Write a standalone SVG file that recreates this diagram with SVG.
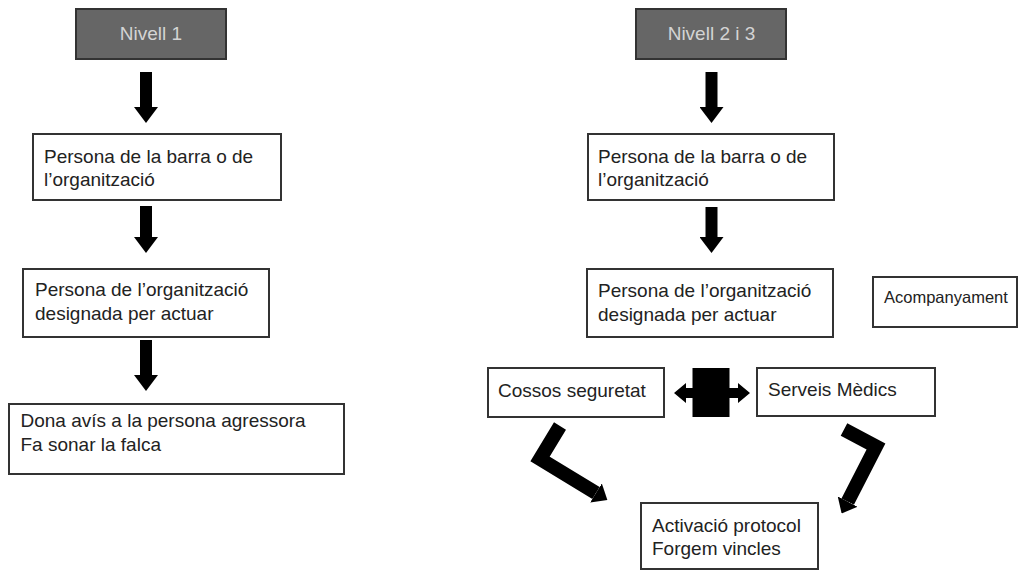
<svg xmlns="http://www.w3.org/2000/svg" width="1018" height="570" viewBox="0 0 1018 570">
<defs>
<style>
.box{fill:#fff;stroke:#333;stroke-width:2}
.hdr{fill:#666;stroke:#333;stroke-width:2}
.t{font-family:"Liberation Sans",Arial,sans-serif;font-size:19px;fill:#222}
.ht{font-family:"Liberation Sans",Arial,sans-serif;font-size:19px;fill:#d4d4d4;text-anchor:middle}
.st{fill:none;stroke:#000;stroke-width:12}
.bent{fill:none;stroke:#000;stroke-width:14;stroke-linejoin:miter}
</style>
<marker id="head" viewBox="0 0 10 10" refX="0" refY="5" markerWidth="1.333" markerHeight="2" markerUnits="strokeWidth" orient="auto" preserveAspectRatio="none">
<path d="M0,0 L10,5 L0,10 Z" fill="#000"/>
</marker>
<marker id="headS" viewBox="0 0 10 10" refX="0" refY="5" markerWidth="0.95" markerHeight="1.6" markerUnits="strokeWidth" orient="auto" preserveAspectRatio="none">
<path d="M0,0 L10,5 L0,10 Z" fill="#000"/>
</marker>
</defs>
<rect width="1018" height="570" fill="#fff"/>

<g id="connectors">
<line class="st" x1="146" y1="72" x2="146" y2="107" marker-end="url(#head)"/>
<line class="st" x1="146" y1="206" x2="146" y2="237" marker-end="url(#head)"/>
<line class="st" x1="146" y1="340" x2="146" y2="375" marker-end="url(#head)"/>
<line class="st" x1="711.5" y1="72" x2="711.5" y2="107" marker-end="url(#head)"/>
<line class="st" x1="711.5" y1="207" x2="711.5" y2="237" marker-end="url(#head)"/>
<path d="M692.5,368 H729.5 V388 H738 V383 L750,393 L738,403 V398 H729.5 V417 H692.5 V398 H686 V403 L674,393 L686,383 V388 H692.5 Z" fill="#000"/>
<polyline class="bent" points="560,426 540,459 596,493" marker-end="url(#headS)"/>
<polyline class="bent" points="844,429.5 876,446.5 847.7,501.6" marker-end="url(#headS)"/>
</g>

<g id="nivell1">
<rect class="hdr" x="76" y="9" width="150" height="50"/>
<text class="ht" x="151" y="39.5">Nivell 1</text>
</g>
<g id="nivell23">
<rect class="hdr" x="636" y="9" width="150" height="50"/>
<text class="ht" x="711.5" y="39.5">Nivell 2 i 3</text>
</g>

<g id="l-barra">
<rect class="box" x="33" y="134" width="248" height="66"/>
<text class="t" x="44" y="163">Persona de la barra o de</text>
<text class="t" x="44" y="186">l’organització</text>
</g>
<g id="l-designada">
<rect class="box" x="23" y="269" width="246" height="68"/>
<text class="t" x="35" y="296">Persona de l’organització</text>
<text class="t" x="35" y="320">designada per actuar</text>
</g>
<g id="l-avis">
<rect class="box" x="9" y="404" width="335" height="70"/>
<text class="t" x="20.5" y="427">Dona avís a la persona agressora</text>
<text class="t" x="20.5" y="451">Fa sonar la falca</text>
</g>

<g id="r-barra">
<rect class="box" x="588" y="134" width="246" height="66"/>
<text class="t" x="598" y="163">Persona de la barra o de</text>
<text class="t" x="598" y="186">l’organització</text>
</g>
<g id="r-designada">
<rect class="box" x="587" y="269" width="246" height="68"/>
<text class="t" x="598" y="297">Persona de l’organització</text>
<text class="t" x="598" y="321">designada per actuar</text>
</g>
<g id="acompanyament">
<rect class="box" x="873" y="277" width="144" height="50"/>
<text class="t" x="884" y="303" style="font-size:16.5px">Acompanyament</text>
</g>
<g id="cossos">
<rect class="box" x="488" y="368" width="176" height="49"/>
<text class="t" x="498" y="397">Cossos seguretat</text>
</g>
<g id="serveis">
<rect class="box" x="757" y="368" width="178" height="48"/>
<text class="t" x="768" y="396">Serveis Mèdics</text>
</g>
<g id="activacio">
<rect class="box" x="641" y="503" width="177" height="66"/>
<text class="t" x="652" y="532">Activació protocol</text>
<text class="t" x="652" y="555">Forgem vincles</text>
</g>
</svg>
